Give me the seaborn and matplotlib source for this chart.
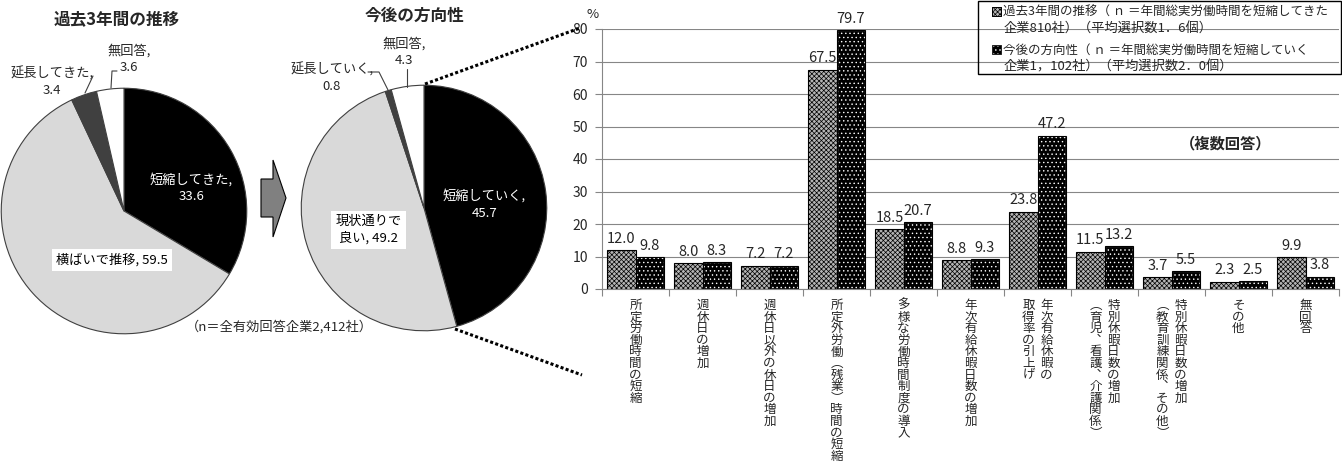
import numpy as np
import pandas as pd
import matplotlib
matplotlib.use("Agg")
import matplotlib.pyplot as plt
from matplotlib.patches import Rectangle, Polygon
from matplotlib.lines import Line2D
import seaborn as sns

# ---- data -------------------------------------------------------------
past_names = ["短縮してきた", "横ばいで推移", "延長してきた", "無回答"]
past_values = [33.6, 59.5, 3.4, 3.6]
future_names = ["短縮していく", "現状通りで\n良い", "延長していく", "無回答"]
future_values = [45.7, 49.2, 0.8, 4.3]

items = [
    "所定労働時間の短縮",
    "週休日の増加",
    "週休日以外の休日の増加",
    "所定外労働（残業）時間の短縮",
    "多様な労働時間制度の導入",
    "年次有給休暇日数の増加",
    "年次有給休暇の\n取得率の引上げ",
    "特別休暇日数の増加\n（育児、看護、介護関係）",
    "特別休暇日数の増加\n（教育訓練関係、その他）",
    "その他",
    "無回答",
]
past_rates = [12.0, 8.0, 7.2, 67.5, 18.5, 8.8, 23.8, 11.5, 3.7, 2.3, 9.9]
future_rates = [9.8, 8.3, 7.2, 79.7, 20.7, 9.3, 47.2, 13.2, 5.5, 2.5, 3.8]
series_names = [
    "過去3年間の推移（ ｎ ＝年間総実労働時間を短縮してきた\n企業810社）（平均選択数1．6個）",
    "今後の方向性（ ｎ ＝年間総実労働時間を短縮していく\n企業1，102社）（平均選択数2．0個）",
]
y_ticks = list(range(0, 81, 10))

# ---- style ------------------------------------------------------------
sns.set_style("white")
plt.rcParams["font.family"] = ["Noto Sans CJK JP", "DejaVu Sans"]
plt.rcParams["hatch.linewidth"] = 0.5

W, H = 1342, 466
fig = plt.figure(figsize=(W / 100, H / 100), dpi=100)


def fx(px):
    return px / W


def fy(py):
    return 1 - py / H


GRID = "#868686"
pie_colors = ["#000000", "#d9d9d9", "#404040", "#ffffff"]
PAST_FACE = "#b4b4b4"
PAST_HATCH = "xxxxxxx"
FUTURE_HATCH = "...."


def draw_pie(left, top, size, values):
    ax = fig.add_axes([fx(left), fy(top + size), size / W, size / H])
    ax.pie(values, colors=pie_colors, startangle=90, counterclock=False,
           radius=1.0, wedgeprops=dict(edgecolor="#404040", linewidth=0.8))
    ax.set_xlim(-1.01, 1.01)
    ax.set_ylim(-1.01, 1.01)
    return ax


# ---- left pie: past three years ---------------------------------------
axp = draw_pie(0, 87, 248, past_values)
axp.text(0.55, 0.19, f"{past_names[0]},\n{past_values[0]}", color="white",
         ha="center", va="center", fontsize=9.5, linespacing=1.35)
axp.text(-0.10, -0.40, f"{past_names[1]}, {past_values[1]}", color="black",
         ha="center", va="center", fontsize=9.5,
         bbox=dict(facecolor="white", edgecolor="none", pad=3))
axp.text(-0.585, 1.05, f"{past_names[2]},\n{past_values[2]}", ha="center",
         va="center", fontsize=9.5, linespacing=1.35, clip_on=False)
axp.text(0.04, 1.24, f"{past_names[3]},\n{past_values[3]}", ha="center",
         va="center", fontsize=9.5, linespacing=1.35, clip_on=False)

# ---- right pie: future direction --------------------------------------
axf = draw_pie(300, 84, 248, future_values)
axf.text(0.49, 0.03, f"{future_names[0]},\n{future_values[0]}", color="white",
         ha="center", va="center", fontsize=9.5, linespacing=1.35)
axf.text(-0.45, -0.18, f"{future_names[1]}, {future_values[1]}", color="black",
         ha="center", va="center", fontsize=9.5, linespacing=1.35,
         bbox=dict(facecolor="white", edgecolor="none", pad=3))
axf.text(-0.75, 1.06, f"{future_names[2]},\n{future_values[2]}", ha="center",
         va="center", fontsize=9.5, linespacing=1.35, clip_on=False)
axf.text(-0.16, 1.27, f"{future_names[3]},\n{future_values[3]}", ha="center",
         va="center", fontsize=9.5, linespacing=1.35, clip_on=False)

# leader lines for the small slices
for pts in ([(85, 93), (93, 76)],
            [(111, 88), (112, 71), (117, 71)],
            [(368, 72), (379, 72), (388, 90)],
            [(407, 69), (407, 87)]):
    xs, ys = zip(*pts)
    fig.add_artist(Line2D([fx(x) for x in xs], [fy(y) for y in ys],
                          color="#404040", lw=0.8, transform=fig.transFigure))

# titles and notes
fig.text(fx(117), fy(19), "過去3年間の推移", ha="center", va="center",
         fontsize=12, fontweight="bold")
fig.text(fx(414), fy(16), "今後の方向性", ha="center", va="center",
         fontsize=12, fontweight="bold")
fig.text(fx(279), fy(327), "（n＝全有効回答企業2,412社）", ha="center",
         va="center", fontsize=9.5)

# arrow between the pies
arrow = [(261, 179), (273, 179), (273, 160), (286, 198), (273, 237),
         (273, 217), (261, 217)]
fig.add_artist(Polygon([(fx(x), fy(y)) for x, y in arrow], closed=True,
                       facecolor="#808080", edgecolor="black", lw=0.8,
                       transform=fig.transFigure))

# dotted guide lines from the pie to the bar chart
for (x0, y0), (x1, y1) in (((425, 84), (580, 28)), ((455, 329), (582, 375))):
    fig.add_artist(Line2D([fx(x0), fx(x1)], [fy(y0), fy(y1)], color="black",
                          lw=2.2, linestyle=(0, (1, 0.75)),
                          dash_capstyle="butt", transform=fig.transFigure))

# ---- bar chart: measures taken ----------------------------------------
ax = fig.add_axes([fx(602), fy(289), 737 / W, 260 / H])
df = pd.DataFrame({
    "item": items * 2,
    "series": [series_names[0]] * len(items) + [series_names[1]] * len(items),
    "rate": past_rates + future_rates,
})
sns.barplot(data=df, x="item", y="rate", hue="series", order=items,
            hue_order=series_names, palette=[PAST_FACE, "#000000"],
            width=0.84, dodge=True, saturation=1, legend=False, ax=ax,
            edgecolor="black", linewidth=0.8)

past_bars, future_bars = ax.containers[0], ax.containers[1]
for p in past_bars:
    p.set_facecolor(PAST_FACE)
    p.set_edgecolor("black")
    p.set_hatch(PAST_HATCH)
for p in future_bars:
    p.set_facecolor("#000000")
    p.set_edgecolor("white")
    p.set_hatch(FUTURE_HATCH)
    ax.add_patch(Rectangle(p.get_xy(), p.get_width(), p.get_height(),
                           fill=False, edgecolor="black", lw=0.8,
                           zorder=p.get_zorder() + 0.1))

for cont in (past_bars, future_bars):
    ax.bar_label(cont, labels=[f"{v:.1f}" for v in cont.datavalues],
                 padding=3, fontsize=10.5)

ax.set_ylim(0, 80)
ax.set_yticks(y_ticks)
ax.set_xlim(-0.5, len(items) - 0.5)
ax.set_xticks(np.arange(-0.5, len(items), 1))
ax.set_xticklabels([])
ax.set_xlabel("")
ax.set_ylabel("")
ax.tick_params(axis="x", length=5, color=GRID, direction="out", bottom=True)
ax.tick_params(axis="y", length=5, color=GRID, direction="out", left=True,
               labelsize=10, pad=5)
ax.yaxis.grid(True, color=GRID, lw=0.8)
ax.set_axisbelow(True)
for side in ("top", "right"):
    ax.spines[side].set_visible(False)
for side in ("left", "bottom"):
    ax.spines[side].set_color(GRID)
    ax.spines[side].set_linewidth(0.8)

# vertical (tategaki) category labels
vert_map = str.maketrans({"（": "︵", "）": "︶", "、": "︑"})
for i, name in enumerate(items):
    cols = name.split("\n")
    offs = [0.0] if len(cols) == 1 else [0.135, -0.135]
    for col, off in zip(cols, offs):
        ax.text(i + off, -10 / 260, "\n".join(col.translate(vert_map)),
                transform=ax.get_xaxis_transform(), ha="center", va="top",
                fontsize=9, linespacing=0.86)

fig.text(fx(593), fy(15), "%", ha="center", va="center", fontsize=9.5)
fig.text(fx(1226), fy(143), "（複数回答）", ha="center", va="center",
         fontsize=11, fontweight="bold")

# legend box
fig.add_artist(Rectangle((fx(978), fy(74)), 363 / W, 73 / H, fill=False,
                         edgecolor="black", lw=1, transform=fig.transFigure))
marker_style = [dict(facecolor=PAST_FACE, edgecolor="black", hatch=PAST_HATCH),
                dict(facecolor="#000000", edgecolor="white", hatch=FUTURE_HATCH)]
for k, (name, style) in enumerate(zip(series_names, marker_style)):
    top = 7 + 38 * k
    fig.add_artist(Rectangle((fx(992), fy(top + 9)), 9 / W, 9 / H,
                             lw=0.6, transform=fig.transFigure, **style))
    fig.add_artist(Rectangle((fx(992), fy(top + 9)), 9 / W, 9 / H, fill=False,
                             edgecolor="black", lw=0.6, transform=fig.transFigure))
    for j, line in enumerate(name.split("\n")):
        fig.text(fx(1003 if j == 0 else 1004), fy(top + 5 + 17 * j), line,
                 ha="left", va="center", fontsize=9.5 if j else 9)

fig.savefig("out.png", dpi=100)
